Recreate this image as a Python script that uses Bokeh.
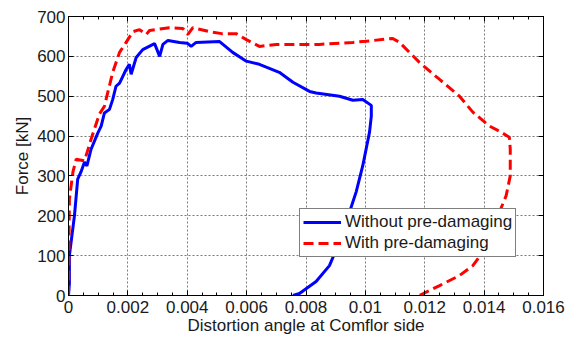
from bokeh.plotting import figure
from bokeh.models import (Range1d, FixedTicker, LinearAxis, CustomJSTickFormatter,
                          Legend, LegendItem)
from bokeh.embed import file_html
from bokeh.resources import INLINE

# ---- data ----
blue_x = [0.0, 0.00003, 0.00003, 0.0002, 0.00031, 0.00042, 0.00054, 0.00062, 0.00076,
          0.00099, 0.0011, 0.00121, 0.00138, 0.00149, 0.0016, 0.00172, 0.00194, 0.00205,
          0.00211, 0.00228, 0.0025, 0.0029, 0.00307, 0.00318, 0.00335, 0.00374, 0.0040,
          0.00413, 0.0043, 0.00509, 0.00553, 0.00599, 0.00643, 0.0071, 0.00756, 0.00812,
          0.00834, 0.00913, 0.00958, 0.00991, 0.0102, 0.0102, 0.01014, 0.00991, 0.00969,
          0.00947, 0.00913, 0.00879, 0.00834, 0.00778, 0.00756]
blue_f = [0, 30, 100, 200, 292, 310, 335, 325, 367,
          408, 425, 458, 467, 492, 525, 533, 567, 580,
          555, 597, 617, 632, 600, 630, 640, 635, 633,
          625, 635, 637, 610, 588, 580, 560, 535, 512,
          508, 500, 490, 492, 477, 450, 410, 325, 260,
          210, 135, 75, 35, 5, 0]

red_x = [0.0, 0.00003, 0.00015, 0.00026, 0.00054, 0.00076, 0.00104, 0.00121, 0.00149,
         0.00172, 0.00194, 0.00217, 0.00239, 0.00262, 0.00273, 0.0034, 0.00385, 0.00402,
         0.00419, 0.00475, 0.00516, 0.00565, 0.00599, 0.00643, 0.007, 0.00845, 0.00958,
         0.01003, 0.01092, 0.01115, 0.01182, 0.0125, 0.01317, 0.01362, 0.01418, 0.01452,
         0.01485, 0.01488, 0.01488, 0.01474, 0.01452, 0.01384, 0.01362, 0.01317, 0.0125,
         0.01182]
red_f = [0, 242, 310, 342, 338, 392, 455, 475, 560,
         610, 635, 662, 667, 655, 665, 672, 670, 655,
         672, 662, 657, 657, 642, 625, 630, 630, 635,
         638, 645, 635, 585, 542, 500, 460, 425, 412,
         397, 367, 300, 250, 210, 97, 75, 50, 25,
         0]

x_ticks = [0.0, 0.002, 0.004, 0.006, 0.008, 0.010, 0.012, 0.014, 0.016]
x_minor = [0.0005 * k for k in range(33)]
y_ticks = [0, 100, 200, 300, 400, 500, 600, 700]

FONT = "Liberation Sans"
TXT = "#1a1a1a"

p = figure(width=570, height=337, output_backend="svg", toolbar_location=None,
           x_range=Range1d(0, 0.016), y_range=Range1d(0, 700),
           min_border_left=68, min_border_top=16, min_border_right=27, min_border_bottom=41)
p.background_fill_color = "white"
p.border_fill_color = "white"
p.outline_line_color = "black"
p.outline_line_width = 1

fmt = CustomJSTickFormatter(code="""
    if (Math.abs(tick) < 1e-12) return "0";
    return String(parseFloat(tick.toFixed(3)));
""")
blank = CustomJSTickFormatter(code='return "";')

xt = FixedTicker(ticks=x_ticks, minor_ticks=x_minor)
yt = FixedTicker(ticks=y_ticks, minor_ticks=[])

def style_axis(ax, labels=True):
    ax.axis_line_color = "black"
    ax.major_tick_line_color = "black"
    ax.minor_tick_line_color = "black"
    ax.major_tick_in = 5
    ax.major_tick_out = 0
    ax.minor_tick_in = 3
    ax.minor_tick_out = 0
    ax.major_label_text_font = FONT
    ax.major_label_text_font_size = "17px" if labels else "1px"
    ax.major_label_text_color = TXT
    ax.major_label_standoff = 4 if labels else 0
    ax.axis_label_text_font = FONT
    ax.axis_label_text_font_size = "17px"
    ax.axis_label_text_font_style = "normal"
    ax.axis_label_text_color = TXT

xa = p.xaxis[0]
xa.ticker = xt
xa.formatter = fmt
xa.axis_label = "Distortion angle at Comflor side"
style_axis(xa)
xa.major_label_standoff = 5
xa.axis_label_standoff = 0

ya = p.yaxis[0]
ya.ticker = yt
ya.axis_label = "Force [kN]"
style_axis(ya)
ya.major_label_standoff = 3
ya.axis_label_standoff = 2

top = LinearAxis(ticker=FixedTicker(ticks=x_ticks, minor_ticks=x_minor), formatter=blank)
style_axis(top, labels=False)
p.add_layout(top, "above")
right = LinearAxis(ticker=FixedTicker(ticks=y_ticks, minor_ticks=[]), formatter=blank)
style_axis(right, labels=False)
p.add_layout(right, "right")

p.xgrid.ticker = xt
p.ygrid.ticker = yt
for g in (p.xgrid[0], p.ygrid[0]):
    g.grid_line_color = "#7a7a7a"
    g.grid_line_dash = "2 2"
    g.grid_line_width = 1

r_blue = p.line(blue_x, blue_f, line_color="#0000ff", line_width=3)
r_red = p.line(red_x, red_f, line_color="#ff0000", line_width=3, line_dash="10 5")

legend = Legend(items=[LegendItem(label="Without pre-damaging", renderers=[r_blue]),
                       LegendItem(label="With pre-damaging", renderers=[r_red])],
                location=(231, 38))
legend.label_text_font = FONT
legend.label_text_font_size = "17px"
legend.label_text_color = TXT
legend.border_line_color = "black"
legend.border_line_width = 1
legend.background_fill_color = "white"
legend.background_fill_alpha = 1.0
legend.padding = 3
legend.spacing = 1
legend.margin = 0
legend.label_height = 20
legend.glyph_height = 20
legend.glyph_width = 38
legend.label_standoff = 4
p.add_layout(legend, "center")

open("out.html", "w").write(file_html(p, INLINE))
